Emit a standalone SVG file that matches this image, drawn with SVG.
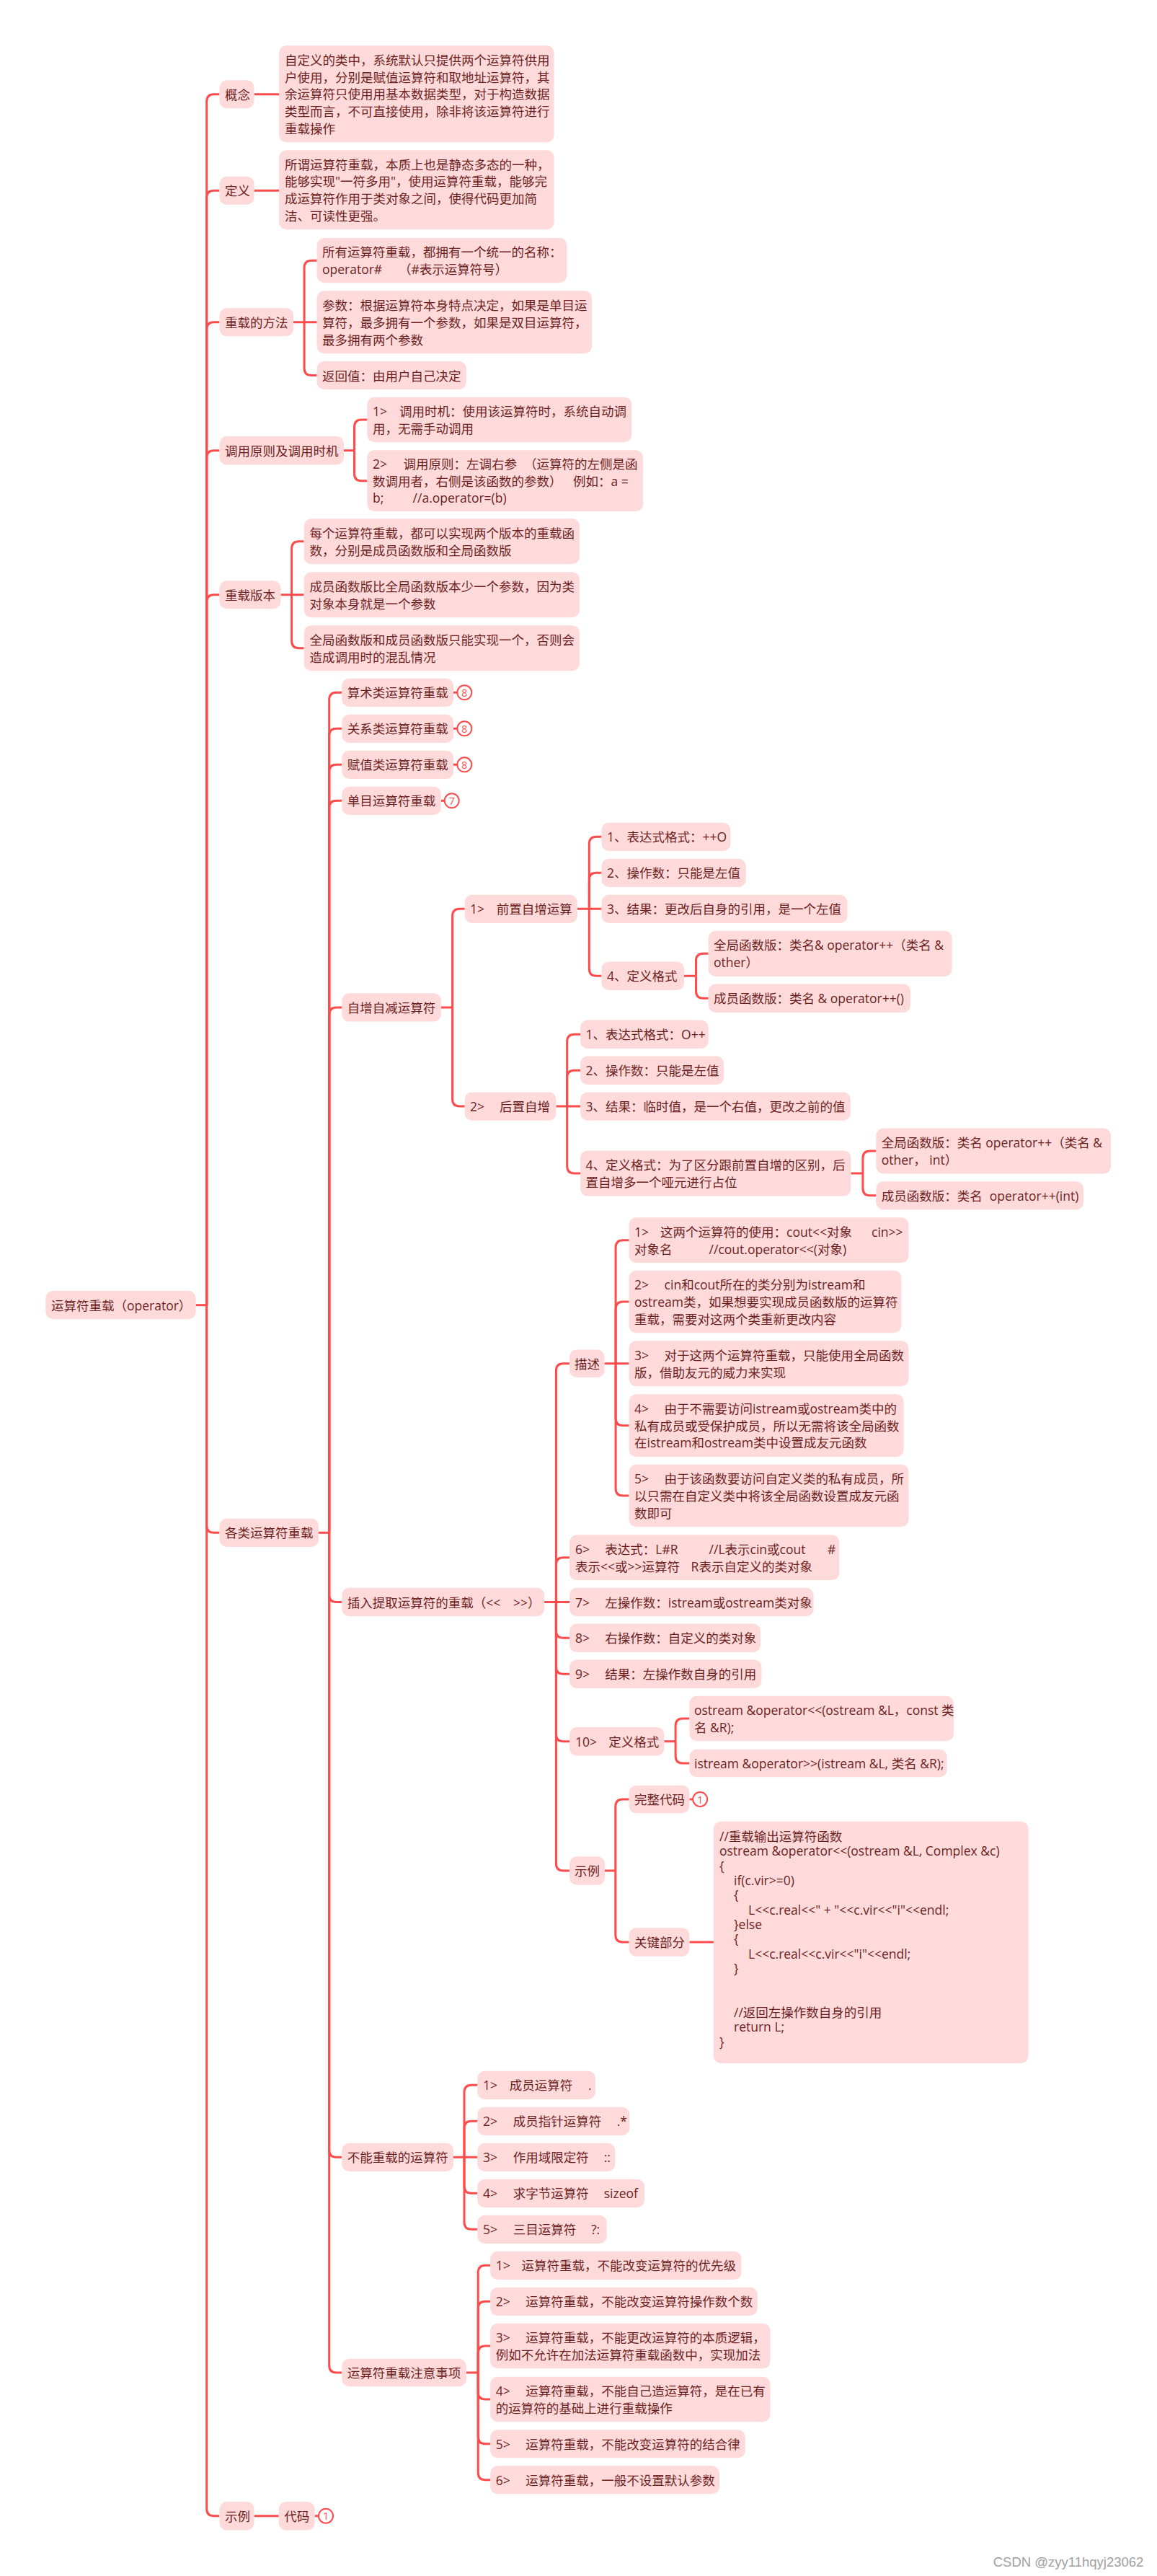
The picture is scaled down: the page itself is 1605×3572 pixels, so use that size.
<svg xmlns="http://www.w3.org/2000/svg" width="1605" height="3572" viewBox="0 0 1605 3572">
<style>
.n rect{fill:#FFDADA}
.cb{fill:#FFDADA}
.t{font-family:"Open Sans","Noto Sans CJK SC",sans-serif;font-size:17.5px;fill:#6d1f1f;dominant-baseline:central}
#connectors path{fill:none;stroke:#FF4B4B;stroke-width:3}
.b circle{fill:#fff;stroke:#FF4B4B;stroke-width:2}
.b text{font-family:"Open Sans",sans-serif;font-size:14px;fill:#FF4B4B;text-anchor:middle;dominant-baseline:central}
.wm{font-family:"Liberation Sans",Arial,sans-serif;font-size:18.5px;fill:#a0a0a0}
</style>
<rect x="0" y="0" width="1605" height="3572" fill="#fff"/>
<g id="connectors">
<path d="M271.7 1809.7H286.7"/>
<path d="M286.7 1809.7V140.8Q286.7 130.8 296.7 130.8H304.5"/>
<path d="M286.7 1809.7V274.2Q286.7 264.2 296.7 264.2H304.5"/>
<path d="M286.7 1809.7V456.8Q286.7 446.8 296.7 446.8H304.5"/>
<path d="M286.7 1809.7V634.7Q286.7 624.7 296.7 624.7H304.5"/>
<path d="M286.7 1809.7V834.8Q286.7 824.8 296.7 824.8H304.5"/>
<path d="M286.7 1809.7V2115.3Q286.7 2125.3 296.7 2125.3H304.5"/>
<path d="M286.7 1809.7V3478.7Q286.7 3488.7 296.7 3488.7H304.5"/>
<path d="M352.5 130.8H387.1"/>
<path d="M352.5 264.2H387.1"/>
<path d="M407 446.8H439.6"/>
<path d="M422.1 446.8V371.15Q422.1 361.15 432.1 361.15H439.6"/>
<path d="M422.1 446.8V510.5Q422.1 520.5 432.1 520.5H439.6"/>
<path d="M477 624.7H491.5"/>
<path d="M491.5 624.7V592Q491.5 582 501.5 582H509.3"/>
<path d="M491.5 624.7V656.7Q491.5 666.7 501.5 666.7H509.3"/>
<path d="M389.5 824.8H421.6"/>
<path d="M404.6 824.8V760.8Q404.6 750.8 414.6 750.8H421.6"/>
<path d="M404.6 824.8V888.8Q404.6 898.8 414.6 898.8H421.6"/>
<path d="M442 2125.3H456.7"/>
<path d="M456.7 2125.3V970.3Q456.7 960.3 466.7 960.3H474.3"/>
<path d="M456.7 2125.3V1020.3Q456.7 1010.3 466.7 1010.3H474.3"/>
<path d="M456.7 2125.3V1070.3Q456.7 1060.3 466.7 1060.3H474.3"/>
<path d="M456.7 2125.3V1120.3Q456.7 1110.3 466.7 1110.3H474.3"/>
<path d="M456.7 2125.3V1407Q456.7 1397 466.7 1397H474.3"/>
<path d="M456.7 2125.3V2211.5Q456.7 2221.5 466.7 2221.5H474.3"/>
<path d="M456.7 2125.3V2981.35Q456.7 2991.35 466.7 2991.35H474.3"/>
<path d="M456.7 2125.3V3280Q456.7 3290 466.7 3290H474.3"/>
<path d="M629 960.3H634.3"/>
<path d="M629 1010.3H634.3"/>
<path d="M629 1060.3H634.3"/>
<path d="M611.8 1110.3H616.7"/>
<path d="M611.8 1397H627.6"/>
<path d="M627.6 1397V1270.35Q627.6 1260.35 637.6 1260.35H644.7"/>
<path d="M627.6 1397V1524.05Q627.6 1534.05 637.6 1534.05H644.7"/>
<path d="M800.8 1260.35H834.5"/>
<path d="M817.3 1260.35V1170.35Q817.3 1160.35 827.3 1160.35H834.5"/>
<path d="M817.3 1260.35V1220.35Q817.3 1210.35 827.3 1210.35H834.5"/>
<path d="M817.3 1260.35V1343.25Q817.3 1353.25 827.3 1353.25H834.5"/>
<path d="M949 1353.25H965.5"/>
<path d="M965.5 1353.25V1332.3Q965.5 1322.3 975.5 1322.3H982.7"/>
<path d="M965.5 1353.25V1374.25Q965.5 1384.25 975.5 1384.25H982.7"/>
<path d="M771.4 1534.05H805.1"/>
<path d="M786.7 1534.05V1444.25Q786.7 1434.25 796.7 1434.25H805.1"/>
<path d="M786.7 1534.05V1494.25Q786.7 1484.25 796.7 1484.25H805.1"/>
<path d="M786.7 1534.05V1617Q786.7 1627 796.7 1627H805.1"/>
<path d="M1180.4 1627H1196.9"/>
<path d="M1196.9 1627V1606.05Q1196.9 1596.05 1206.9 1596.05H1215.3"/>
<path d="M1196.9 1627V1647.85Q1196.9 1657.85 1206.9 1657.85H1215.3"/>
<path d="M755 2221.5H790"/>
<path d="M771.4 2221.5V1900.8Q771.4 1890.8 781.4 1890.8H790"/>
<path d="M771.4 2221.5V2169.7Q771.4 2159.7 781.4 2159.7H790"/>
<path d="M771.4 2221.5V2261.3Q771.4 2271.3 781.4 2271.3H790"/>
<path d="M771.4 2221.5V2311.3Q771.4 2321.3 781.4 2321.3H790"/>
<path d="M771.4 2221.5V2404.7Q771.4 2414.7 781.4 2414.7H790"/>
<path d="M771.4 2221.5V2584Q771.4 2594 781.4 2594H790"/>
<path d="M838.5 1890.8H872.5"/>
<path d="M854.1 1890.8V1729.7Q854.1 1719.7 864.1 1719.7H872.5"/>
<path d="M854.1 1890.8V1815Q854.1 1805 864.1 1805H872.5"/>
<path d="M854.1 1890.8V1966.7Q854.1 1976.7 864.1 1976.7H872.5"/>
<path d="M854.1 1890.8V2064Q854.1 2074 864.1 2074H872.5"/>
<path d="M921.4 2414.7H937.1"/>
<path d="M937.1 2414.7V2393Q937.1 2383 947.1 2383H956.4"/>
<path d="M937.1 2414.7V2435Q937.1 2445 947.1 2445H956.4"/>
<path d="M839 2594H853.8"/>
<path d="M853.8 2594V2505Q853.8 2495 863.8 2495H872.5"/>
<path d="M853.8 2594V2683Q853.8 2693 863.8 2693H872.5"/>
<path d="M956.4 2693H989.9"/>
<path d="M956.4 2495H961.2"/>
<path d="M629 2991.35H662.3"/>
<path d="M644 2991.35V2901.35Q644 2891.35 654 2891.35H662.3"/>
<path d="M644 2991.35V2951.35Q644 2941.35 654 2941.35H662.3"/>
<path d="M644 2991.35V3031.35Q644 3041.35 654 3041.35H662.3"/>
<path d="M644 2991.35V3081.35Q644 3091.35 654 3091.35H662.3"/>
<path d="M646.8 3290H663.2"/>
<path d="M663.2 3290V3151.35Q663.2 3141.35 673.2 3141.35H680.2"/>
<path d="M663.2 3290V3201.35Q663.2 3191.35 673.2 3191.35H680.2"/>
<path d="M663.2 3290V3263Q663.2 3253 673.2 3253H680.2"/>
<path d="M663.2 3290V3317Q663.2 3327 673.2 3327H680.2"/>
<path d="M663.2 3290V3378.8Q663.2 3388.8 673.2 3388.8H680.2"/>
<path d="M663.2 3290V3428.8Q663.2 3438.8 673.2 3438.8H680.2"/>
<path d="M352.5 3488.7H386.7"/>
<path d="M436.7 3488.7H442"/>
</g>

<g id="n-root" class="n"><rect x="63.3" y="1790" width="208.4" height="39.3" rx="10"/><text class="t" x="71" y="1809.7">运算符重载（operator）</text></g>

<g id="n-gainian" class="n"><rect x="304.5" y="111.3" width="48" height="39" rx="10"/><text class="t" x="312" y="130.8">概念</text></g>
<g id="n-gainian-1" class="n"><rect x="387.1" y="63.3" width="381.5" height="134" rx="10"/><text class="t"><tspan x="395" y="82.9">自定义的类中，系统默认只提供两个运算符供用</tspan><tspan x="395" y="106.6">户使用，分别是赋值运算符和取地址运算符，其</tspan><tspan x="395" y="130.3">余运算符只使用用基本数据类型，对于构造数据</tspan><tspan x="395" y="154">类型而言，不可直接使用，除非将该运算符进行</tspan><tspan x="395" y="177.7">重载操作</tspan></text></g>

<g id="n-dingyi" class="n"><rect x="304.5" y="244.7" width="48" height="39" rx="10"/><text class="t" x="312" y="264.2">定义</text></g>
<g id="n-dingyi-1" class="n"><rect x="387.1" y="208.3" width="381.5" height="110" rx="10"/><text class="t"><tspan x="395" y="227.75">所谓运算符重载，本质上也是静态多态的一种，</tspan><tspan x="395" y="251.45">能够实现"一符多用"，使用运算符重载，能够完</tspan><tspan x="395" y="275.15">成运算符作用于类对象之间，使得代码更加简</tspan><tspan x="395" y="298.85">洁、可读性更强。</tspan></text></g>

<g id="n-fangfa" class="n"><rect x="304.5" y="427.3" width="102.5" height="39" rx="10"/><text class="t" x="312" y="446.8">重载的方法</text></g>
<g id="n-fangfa-1" class="n"><rect x="439.6" y="330" width="346.8" height="62.3" rx="10"/><text class="t"><tspan x="447" y="349.3">所有运算符重载，都拥有一个统一的名称：</tspan><tspan x="447" y="373">operator#</tspan><tspan x="553" y="373">（#表示运算符号）</tspan></text></g>
<g id="n-fangfa-2" class="n"><rect x="439.6" y="403.3" width="381.5" height="87" rx="10"/><text class="t"><tspan x="447" y="423.1">参数：根据运算符本身特点决定，如果是单目运</tspan><tspan x="447" y="446.8">算符，最多拥有一个参数，如果是双目运算符，</tspan><tspan x="447" y="470.5">最多拥有两个参数</tspan></text></g>
<g id="n-fangfa-3" class="n"><rect x="439.6" y="501" width="207.2" height="39" rx="10"/><text class="t" x="447" y="520.5">返回值：由用户自己决定</text></g>

<g id="n-diaoyong" class="n"><rect x="304.5" y="605" width="172.5" height="39.4" rx="10"/><text class="t" x="312" y="624.7">调用原则及调用时机</text></g>
<g id="n-diaoyong-1" class="n"><rect x="509.3" y="550.7" width="367" height="62.6" rx="10"/><text class="t"><tspan x="517" y="570.15">1&gt;</tspan><tspan x="554" y="570.15">调用时机：使用该运算符时，系统自动调</tspan><tspan x="517" y="593.85">用，无需手动调用</tspan></text></g>
<g id="n-diaoyong-2" class="n"><rect x="509.3" y="624.3" width="382.8" height="84.8" rx="10"/><text class="t"><tspan x="517" y="643">2&gt;</tspan><tspan x="559.6" y="643">调用原则：左调右参</tspan><tspan x="727" y="643">（运算符的左侧是函</tspan><tspan x="517" y="666.7">数调用者，右侧是该函数的参数）</tspan><tspan x="795" y="666.7">例如：a =</tspan><tspan x="517" y="690.4">b;</tspan><tspan x="572.6" y="690.4">//a.operator=(b)</tspan></text></g>

<g id="n-banben" class="n"><rect x="304.5" y="805.3" width="85" height="39" rx="10"/><text class="t" x="312" y="824.8">重载版本</text></g>
<g id="n-banben-1" class="n"><rect x="421.6" y="719.3" width="382.3" height="63" rx="10"/><text class="t"><tspan x="429.5" y="738.95">每个运算符重载，都可以实现两个版本的重载函</tspan><tspan x="429.5" y="762.65">数，分别是成员函数版和全局函数版</tspan></text></g>
<g id="n-banben-2" class="n"><rect x="421.6" y="793.3" width="382.3" height="63" rx="10"/><text class="t"><tspan x="429.5" y="812.95">成员函数版比全局函数版本少一个参数，因为类</tspan><tspan x="429.5" y="836.65">对象本身就是一个参数</tspan></text></g>
<g id="n-banben-3" class="n"><rect x="421.6" y="867.3" width="382.3" height="63" rx="10"/><text class="t"><tspan x="429.5" y="886.95">全局函数版和成员函数版只能实现一个，否则会</tspan><tspan x="429.5" y="910.65">造成调用时的混乱情况</tspan></text></g>

<g id="n-gelei" class="n"><rect x="304.5" y="2105.7" width="137.5" height="39.3" rx="10"/><text class="t" x="312" y="2125.3">各类运算符重载</text></g>
<g id="n-suanshu" class="n"><rect x="474.3" y="940.7" width="154.7" height="39.3" rx="10"/><text class="t" x="481.8" y="960.3">算术类运算符重载</text></g>
<g id="n-guanxi" class="n"><rect x="474.3" y="990.7" width="154.7" height="39.3" rx="10"/><text class="t" x="481.8" y="1010.3">关系类运算符重载</text></g>
<g id="n-fuzhi" class="n"><rect x="474.3" y="1040.7" width="154.7" height="39.3" rx="10"/><text class="t" x="481.8" y="1060.3">赋值类运算符重载</text></g>
<g id="n-danmu" class="n"><rect x="474.3" y="1090.7" width="137.5" height="39.3" rx="10"/><text class="t" x="481.8" y="1110.3">单目运算符重载</text></g>
<g id="b-suanshu" class="b"><circle cx="644.3" cy="960.3" r="10"/><text x="644.3" y="960.3">8</text></g>
<g id="b-guanxi" class="b"><circle cx="644.3" cy="1010.3" r="10"/><text x="644.3" y="1010.3">8</text></g>
<g id="b-fuzhi" class="b"><circle cx="644.3" cy="1060.3" r="10"/><text x="644.3" y="1060.3">8</text></g>
<g id="b-danmu" class="b"><circle cx="626.7" cy="1110.3" r="10"/><text x="626.7" y="1110.3">7</text></g>

<g id="n-zizeng" class="n"><rect x="474.3" y="1377.3" width="137.5" height="39.3" rx="10"/><text class="t" x="481.8" y="1397">自增自减运算符</text></g>
<g id="n-qianzhi" class="n"><rect x="644.7" y="1240.7" width="156.1" height="39.3" rx="10"/><text class="t"><tspan x="652" y="1260.35">1&gt;</tspan><tspan x="688.8" y="1260.35">前置自增运算</tspan></text></g>
<g id="n-qz-1" class="n"><rect x="834.5" y="1140.7" width="178.8" height="39.3" rx="10"/><text class="t" x="842" y="1160.35">1、表达式格式：++O</text></g>
<g id="n-qz-2" class="n"><rect x="834.5" y="1190.7" width="200.2" height="39.3" rx="10"/><text class="t" x="842" y="1210.35">2、操作数：只能是左值</text></g>
<g id="n-qz-3" class="n"><rect x="834.5" y="1240.7" width="341" height="39.3" rx="10"/><text class="t" x="842" y="1260.35">3、结果：更改后自身的引用，是一个左值</text></g>
<g id="n-qz-4" class="n"><rect x="834.5" y="1333.6" width="114.5" height="39.3" rx="10"/><text class="t" x="842" y="1353.25">4、定义格式</text></g>
<g id="n-qz-4-1" class="n"><rect x="982.7" y="1290.7" width="337.9" height="63.2" rx="10"/><text class="t"><tspan x="990" y="1310.45">全局函数版：类名&amp; operator++（类名 &amp;</tspan><tspan x="990" y="1334.15">other）</tspan></text></g>
<g id="n-qz-4-2" class="n"><rect x="982.7" y="1364.6" width="280.3" height="39.3" rx="10"/><text class="t" x="990" y="1384.25">成员函数版：类名 &amp; operator++()</text></g>

<g id="n-houzhi" class="n"><rect x="644.7" y="1514.4" width="126.7" height="39.3" rx="10"/><text class="t"><tspan x="652" y="1534.05">2&gt;</tspan><tspan x="693" y="1534.05">后置自增</tspan></text></g>
<g id="n-hz-1" class="n"><rect x="805.1" y="1414.6" width="177.6" height="39.3" rx="10"/><text class="t" x="812.6" y="1434.25">1、表达式格式：O++</text></g>
<g id="n-hz-2" class="n"><rect x="805.1" y="1464.6" width="199" height="39.3" rx="10"/><text class="t" x="812.6" y="1484.25">2、操作数：只能是左值</text></g>
<g id="n-hz-3" class="n"><rect x="805.1" y="1514.4" width="374.7" height="39.3" rx="10"/><text class="t" x="812.6" y="1534.05">3、结果：临时值，是一个右值，更改之前的值</text></g>
<g id="n-hz-4" class="n"><rect x="805.1" y="1595.4" width="375.3" height="63.2" rx="10"/><text class="t"><tspan x="812.6" y="1615.15">4、定义格式：为了区分跟前置自增的区别，后</tspan><tspan x="812.6" y="1638.85">置自增多一个哑元进行占位</tspan></text></g>
<g id="n-hz-4-1" class="n"><rect x="1215.3" y="1564.6" width="325.7" height="62.9" rx="10"/><text class="t"><tspan x="1222.8" y="1584.2">全局函数版：类名 operator++（类名 &amp;</tspan><tspan x="1222.8" y="1607.9">other， int）</tspan></text></g>
<g id="n-hz-4-2" class="n"><rect x="1215.3" y="1638.2" width="287.7" height="39.3" rx="10"/><text class="t"><tspan x="1222.8" y="1657.85">成员函数版：类名</tspan><tspan x="1372.8" y="1657.85">operator++(int)</tspan></text></g>

<g id="n-charu" class="n"><rect x="474.3" y="2201.8" width="280.7" height="39.4" rx="10"/><text class="t"><tspan x="481.8" y="2221.5">插入提取运算符的重载（&lt;&lt;</tspan><tspan x="712" y="2221.5">&gt;&gt;）</tspan></text></g>
<g id="n-miaoshu" class="n"><rect x="790" y="1871.6" width="48.5" height="38.4" rx="10"/><text class="t" x="797" y="1890.8">描述</text></g>
<g id="n-ms-1" class="n"><rect x="872.5" y="1688.3" width="388" height="62.8" rx="10"/><text class="t"><tspan x="880" y="1707.85">1&gt;</tspan><tspan x="916" y="1707.85">这两个运算符的使用：cout&lt;&lt;对象</tspan><tspan x="1209" y="1707.85">cin&gt;&gt;</tspan><tspan x="880" y="1731.55">对象名</tspan><tspan x="983.6" y="1731.55">//cout.operator&lt;&lt;(对象)</tspan></text></g>
<g id="n-ms-2" class="n"><rect x="872.5" y="1761.7" width="377.9" height="86.6" rx="10"/><text class="t"><tspan x="880" y="1781.3">2&gt;</tspan><tspan x="921.6" y="1781.3">cin和cout所在的类分别为istream和</tspan><tspan x="880" y="1805">ostream类，如果想要实现成员函数版的运算符</tspan><tspan x="880" y="1828.7">重载，需要对这两个类重新更改内容</tspan></text></g>
<g id="n-ms-3" class="n"><rect x="872.5" y="1859.3" width="388" height="63" rx="10"/><text class="t"><tspan x="880" y="1878.95">3&gt;</tspan><tspan x="921.6" y="1878.95">对于这两个运算符重载，只能使用全局函数</tspan><tspan x="880" y="1902.65">版，借助友元的威力来实现</tspan></text></g>
<g id="n-ms-4" class="n"><rect x="872.5" y="1933.3" width="381.1" height="86.8" rx="10"/><text class="t"><tspan x="880" y="1953">4&gt;</tspan><tspan x="921.6" y="1953">由于不需要访问istream或ostream类中的</tspan><tspan x="880" y="1976.7">私有成员或受保护成员，所以无需将该全局函数</tspan><tspan x="880" y="2000.4">在istream和ostream类中设置成友元函数</tspan></text></g>
<g id="n-ms-5" class="n"><rect x="872.5" y="2030.7" width="388" height="86.6" rx="10"/><text class="t"><tspan x="880" y="2050.3">5&gt;</tspan><tspan x="921.6" y="2050.3">由于该函数要访问自定义类的私有成员，所</tspan><tspan x="880" y="2074">以只需在自定义类中将该全局函数设置成友元函</tspan><tspan x="880" y="2097.7">数即可</tspan></text></g>
<g id="n-cr-6" class="n"><rect x="790" y="2128.3" width="374.3" height="62.8" rx="10"/><text class="t"><tspan x="797.9" y="2147.85">6&gt;</tspan><tspan x="839.3" y="2147.85">表达式：L#R</tspan><tspan x="983.6" y="2147.85">//L表示cin或cout</tspan><tspan x="1147.9" y="2147.85">#</tspan><tspan x="797.9" y="2171.55">表示&lt;&lt;或&gt;&gt;运算符</tspan><tspan x="958.6" y="2171.55">R表示自定义的类对象</tspan></text></g>
<g id="n-cr-7" class="n"><rect x="790" y="2201.8" width="338.6" height="39.4" rx="10"/><text class="t"><tspan x="797.9" y="2221.5">7&gt;</tspan><tspan x="839.3" y="2221.5">左操作数：istream或ostream类对象</tspan></text></g>
<g id="n-cr-8" class="n"><rect x="790" y="2251.6" width="265" height="39.4" rx="10"/><text class="t"><tspan x="797.9" y="2271.3">8&gt;</tspan><tspan x="839.3" y="2271.3">右操作数：自定义的类对象</tspan></text></g>
<g id="n-cr-9" class="n"><rect x="790" y="2301.6" width="266.4" height="39.4" rx="10"/><text class="t"><tspan x="797.9" y="2321.3">9&gt;</tspan><tspan x="839.3" y="2321.3">结果：左操作数自身的引用</tspan></text></g>
<g id="n-cr-10" class="n"><rect x="790" y="2395" width="131.4" height="39.4" rx="10"/><text class="t"><tspan x="797.9" y="2414.7">10&gt;</tspan><tspan x="844.3" y="2414.7">定义格式</tspan></text></g>
<g id="n-cr-10-1" class="n"><rect x="956.4" y="2351.7" width="366.5" height="62.6" rx="10"/><text class="t"><tspan x="963" y="2371.15">ostream &amp;operator&lt;&lt;(ostream &amp;L，const 类</tspan><tspan x="963" y="2394.85">名 &amp;R);</tspan></text></g>
<g id="n-cr-10-2" class="n"><rect x="956.4" y="2425.7" width="357.2" height="38.6" rx="10"/><text class="t" x="963" y="2445">istream &amp;operator&gt;&gt;(istream &amp;L, 类名 &amp;R);</text></g>
<g id="n-cr-shili" class="n"><rect x="790" y="2574.3" width="49" height="39.4" rx="10"/><text class="t" x="797" y="2594">示例</text></g>
<g id="n-wanzheng" class="n"><rect x="872.5" y="2475.7" width="83.9" height="38.6" rx="10"/><text class="t" x="880" y="2495">完整代码</text></g>
<g id="b-wanzheng" class="b"><circle cx="971.2" cy="2495" r="10"/><text x="971.2" y="2495">1</text></g>
<g id="n-guanjian" class="n"><rect x="872.5" y="2673.3" width="83.9" height="39.4" rx="10"/><text class="t" x="880" y="2693">关键部分</text></g>
<g id="n-code" class="n"><rect x="989.9" y="2525.7" width="436.6" height="335.3" rx="10"/><text class="t"><tspan x="998" y="2546">//重载输出运算符函数</tspan><tspan x="998" y="2566.3">ostream &amp;operator&lt;&lt;(ostream &amp;L, Complex &amp;c)</tspan><tspan x="998" y="2586.7">{</tspan><tspan x="1018" y="2607">if(c.vir&gt;=0)</tspan><tspan x="1018" y="2627.3">{</tspan><tspan x="1038" y="2647.7">L&lt;&lt;c.real&lt;&lt;" + "&lt;&lt;c.vir&lt;&lt;"i"&lt;&lt;endl;</tspan><tspan x="1018" y="2668">}else</tspan><tspan x="1018" y="2688.3">{</tspan><tspan x="1038" y="2708.7">L&lt;&lt;c.real&lt;&lt;c.vir&lt;&lt;"i"&lt;&lt;endl;</tspan><tspan x="1018" y="2729">}</tspan><tspan x="1018" y="2790">//返回左操作数自身的引用</tspan><tspan x="1018" y="2810.3">return L;</tspan><tspan x="998" y="2830.7">}</tspan></text></g>

<g id="n-buneng" class="n"><rect x="474.3" y="2971.7" width="154.7" height="39.3" rx="10"/><text class="t" x="481.8" y="2991.35">不能重载的运算符</text></g>
<g id="n-bn-1" class="n"><rect x="662.3" y="2871.7" width="163.7" height="39.3" rx="10"/><text class="t"><tspan x="670" y="2891.35">1&gt;</tspan><tspan x="706.7" y="2891.35">成员运算符</tspan><tspan x="816" y="2891.35">.</tspan></text></g>
<g id="n-bn-2" class="n"><rect x="662.3" y="2921.7" width="211" height="39.3" rx="10"/><text class="t"><tspan x="670" y="2941.35">2&gt;</tspan><tspan x="711.7" y="2941.35">成员指针运算符</tspan><tspan x="855.7" y="2941.35">.*</tspan></text></g>
<g id="n-bn-3" class="n"><rect x="662.3" y="2971.7" width="191" height="39.3" rx="10"/><text class="t"><tspan x="670" y="2991.35">3&gt;</tspan><tspan x="711.7" y="2991.35">作用域限定符</tspan><tspan x="837.7" y="2991.35">::</tspan></text></g>
<g id="n-bn-4" class="n"><rect x="662.3" y="3021.7" width="231.7" height="39.3" rx="10"/><text class="t"><tspan x="670" y="3041.35">4&gt;</tspan><tspan x="711.7" y="3041.35">求字节运算符</tspan><tspan x="837.7" y="3041.35">sizeof</tspan></text></g>
<g id="n-bn-5" class="n"><rect x="662.3" y="3071.7" width="179.4" height="39.3" rx="10"/><text class="t"><tspan x="670" y="3091.35">5&gt;</tspan><tspan x="711.7" y="3091.35">三目运算符</tspan><tspan x="820" y="3091.35">?:</tspan></text></g>

<g id="n-zhuyi" class="n"><rect x="474.3" y="3270.7" width="172.5" height="38.6" rx="10"/><text class="t" x="481.8" y="3290">运算符重载注意事项</text></g>
<g id="n-zy-1" class="n"><rect x="680.2" y="3121.7" width="348.2" height="39.3" rx="10"/><text class="t"><tspan x="687.8" y="3141.35">1&gt;</tspan><tspan x="723.5" y="3141.35">运算符重载，不能改变运算符的优先级</tspan></text></g>
<g id="n-zy-2" class="n"><rect x="680.2" y="3171.7" width="370.5" height="39.3" rx="10"/><text class="t"><tspan x="687.8" y="3191.35">2&gt;</tspan><tspan x="729.3" y="3191.35">运算符重载，不能改变运算符操作数个数</tspan></text></g>
<g id="n-zy-3" class="n"><rect x="680.2" y="3221.7" width="388.4" height="62.6" rx="10"/><text class="t"><tspan x="687.8" y="3241.15">3&gt;</tspan><tspan x="729.3" y="3241.15">运算符重载，不能更改运算符的本质逻辑，</tspan><tspan x="687.8" y="3264.85">例如不允许在加法运算符重载函数中，实现加法</tspan></text></g>
<g id="n-zy-4" class="n"><rect x="680.2" y="3295.7" width="388.4" height="62.6" rx="10"/><text class="t"><tspan x="687.8" y="3315.15">4&gt;</tspan><tspan x="729.3" y="3315.15">运算符重载，不能自己造运算符，是在已有</tspan><tspan x="687.8" y="3338.85">的运算符的基础上进行重载操作</tspan></text></g>
<g id="n-zy-5" class="n"><rect x="680.2" y="3369.3" width="353.6" height="39" rx="10"/><text class="t"><tspan x="687.8" y="3388.8">5&gt;</tspan><tspan x="729.3" y="3388.8">运算符重载，不能改变运算符的结合律</tspan></text></g>
<g id="n-zy-6" class="n"><rect x="680.2" y="3419.3" width="317.8" height="39" rx="10"/><text class="t"><tspan x="687.8" y="3438.8">6&gt;</tspan><tspan x="729.3" y="3438.8">运算符重载，一般不设置默认参数</tspan></text></g>

<g id="n-shili" class="n"><rect x="304.5" y="3469" width="48" height="39.4" rx="10"/><text class="t" x="312" y="3488.7">示例</text></g>
<g id="n-daima" class="n"><rect x="386.7" y="3469" width="50" height="39.4" rx="10"/><text class="t" x="394.3" y="3488.7">代码</text></g>
<g id="b-daima" class="b"><circle cx="452" cy="3488.7" r="10"/><text x="452" y="3488.7">1</text></g>

<text class="wm" x="1377.7" y="3559.3">CSDN @zyy11hqyj23062</text>
</svg>
